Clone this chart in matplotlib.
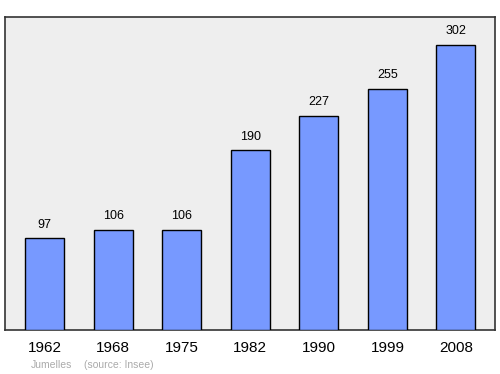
import matplotlib
matplotlib.use("Agg")
import matplotlib.pyplot as plt

years = ["1962", "1968", "1975", "1982", "1990", "1999", "2008"]
population = [97, 106, 106, 190, 227, 255, 302]
footer_name = "Jumelles"
footer_source = "(source: Insee)"

plt.rcParams['font.family'] = ['Liberation Sans', 'DejaVu Sans']

fig = plt.figure(figsize=(5, 3.74), dpi=100)
ax = fig.add_axes([0.01, 0.1176, 0.98, 0.8375])
ax.set_facecolor('#eeeeee')
x = list(range(len(years)))
ax.bar(x, population, width=0.57, color='#7799ff', edgecolor='black', linewidth=1.0, zorder=3)
for xi, v in zip(x, population):
    ax.annotate(str(v), (xi, v), xytext=(0, 5.5), textcoords='offset points',
                ha='center', va='bottom', fontsize=9, color='black')
ax.set_xlim(-0.58, 6.57)
ax.set_ylim(0, 331.5)
ax.set_xticks(x)
ax.set_xticklabels(years, fontsize=11)
ax.tick_params(axis='x', length=0, pad=8)
ax.set_yticks([])
for s in ax.spines.values():
    s.set_color('#333333')
    s.set_linewidth(1.2)
fig.text(31/500, 1 - 365/374, footer_name, fontsize=7.5, color='#aaaaaa', va='center', ha='left')
fig.text(84/500, 1 - 365/374, footer_source, fontsize=7.5, color='#aaaaaa', va='center', ha='left')
fig.savefig("out.png", dpi=100)
